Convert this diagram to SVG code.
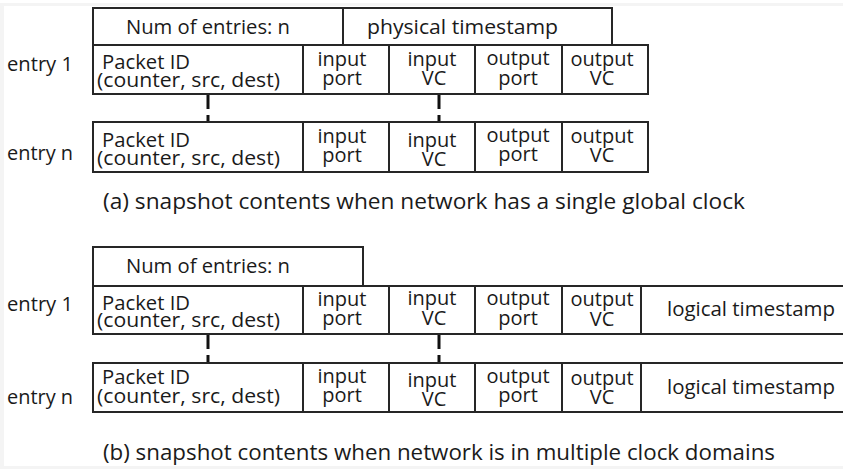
<svg xmlns="http://www.w3.org/2000/svg" width="843" height="469" viewBox="0 0 843 469">
  <style>
    .cell { fill: #ffffff; stroke: #262626; stroke-width: 2; }
    .t { font-family: "Open Sans", "Noto Sans", "DejaVu Sans", sans-serif; font-size: 20px; fill: #1a1a1a; }
    .m { text-anchor: middle; }
    .lbl { font-family: "Open Sans", "Noto Sans", "DejaVu Sans", sans-serif; font-size: 20px; fill: #1a1a1a; }
    .cap { font-family: "Open Sans", "Noto Sans", "DejaVu Sans", sans-serif; font-size: 21px; fill: #1a1a1a; }
    .dash { stroke: #111111; stroke-width: 3; stroke-dasharray: 14 6; fill: none; }
  </style>

  <!-- page background with faint frame -->
  <rect x="0" y="0" width="843" height="469" fill="#ffffff"/>
  <rect x="0" y="3" width="843" height="3" fill="#f4f4f4"/>
  <rect x="0" y="3" width="4" height="466" fill="#f4f4f4"/>
  <rect x="0" y="466" width="843" height="3" fill="#f4f4f4"/>

  <!-- ===== (a) single global clock ===== -->
  <g id="a-header-count">
    <rect class="cell" x="93" y="8" width="250" height="37"/>
    <text class="t" x="126" y="34" textLength="164" lengthAdjust="spacingAndGlyphs">Num of entries: n</text>
  </g>
  <g id="a-header-time">
    <rect class="cell" x="343" y="8" width="269" height="37"/>
    <text class="t" x="367" y="34" textLength="191" lengthAdjust="spacingAndGlyphs">physical timestamp</text>
  </g>

  <text class="lbl" x="7" y="71" textLength="66" lengthAdjust="spacingAndGlyphs">entry 1</text>
  <g id="a-entry1">
    <rect class="cell" x="93" y="45" width="210" height="49"/>
    <rect class="cell" x="303" y="45" width="86" height="49"/>
    <rect class="cell" x="389" y="45" width="86" height="49"/>
    <rect class="cell" x="475" y="45" width="87" height="49"/>
    <rect class="cell" x="562" y="45" width="86" height="49"/>
    <text class="t" x="102" y="69" textLength="88" lengthAdjust="spacingAndGlyphs">Packet ID</text>
    <text class="t" x="97" y="87" textLength="183" lengthAdjust="spacingAndGlyphs">(counter, src, dest)</text>
    <text class="t m" x="342" y="66">input</text>
    <text class="t m" x="342" y="85">port</text>
    <text class="t m" x="432" y="66">input</text>
    <text class="t m" x="434" y="85">VC</text>
    <text class="t m" x="518" y="65">output</text>
    <text class="t m" x="518" y="85">port</text>
    <text class="t m" x="602" y="66">output</text>
    <text class="t m" x="602" y="85">VC</text>
  </g>

  <text class="lbl" x="7" y="160" textLength="66" lengthAdjust="spacingAndGlyphs">entry n</text>
  <g id="a-entryn">
    <rect class="cell" x="93" y="122" width="210" height="50"/>
    <rect class="cell" x="303" y="122" width="86" height="50"/>
    <rect class="cell" x="389" y="122" width="86" height="50"/>
    <rect class="cell" x="475" y="122" width="87" height="50"/>
    <rect class="cell" x="562" y="122" width="86" height="50"/>
    <text class="t" x="102" y="147" textLength="88" lengthAdjust="spacingAndGlyphs">Packet ID</text>
    <text class="t" x="97" y="165" textLength="183" lengthAdjust="spacingAndGlyphs">(counter, src, dest)</text>
    <text class="t m" x="342" y="143">input</text>
    <text class="t m" x="342" y="162">port</text>
    <text class="t m" x="432" y="147">input</text>
    <text class="t m" x="434" y="166">VC</text>
    <text class="t m" x="518" y="142">output</text>
    <text class="t m" x="518" y="161">port</text>
    <text class="t m" x="602" y="143">output</text>
    <text class="t m" x="602" y="162">VC</text>
  </g>

  <text class="cap" x="103" y="209" textLength="642" lengthAdjust="spacingAndGlyphs">(a) snapshot contents when network has a single global clock</text>

  <!-- ===== (b) multiple clock domains ===== -->
  <g id="b-header-count">
    <rect class="cell" x="93" y="247" width="270" height="39"/>
    <text class="t" x="126" y="273" textLength="164" lengthAdjust="spacingAndGlyphs">Num of entries: n</text>
  </g>

  <text class="lbl" x="7" y="311" textLength="66" lengthAdjust="spacingAndGlyphs">entry 1</text>
  <g id="b-entry1">
    <rect class="cell" x="93" y="286" width="210" height="48"/>
    <rect class="cell" x="303" y="286" width="86" height="48"/>
    <rect class="cell" x="389" y="286" width="86" height="48"/>
    <rect class="cell" x="475" y="286" width="87" height="48"/>
    <rect class="cell" x="562" y="286" width="79" height="48"/>
    <rect class="cell" x="641" y="286" width="210" height="48"/>
    <text class="t" x="102" y="310" textLength="88" lengthAdjust="spacingAndGlyphs">Packet ID</text>
    <text class="t" x="97" y="327" textLength="183" lengthAdjust="spacingAndGlyphs">(counter, src, dest)</text>
    <text class="t m" x="342" y="306">input</text>
    <text class="t m" x="342" y="325">port</text>
    <text class="t m" x="432" y="305">input</text>
    <text class="t m" x="434" y="325">VC</text>
    <text class="t m" x="518" y="305">output</text>
    <text class="t m" x="518" y="325">port</text>
    <text class="t m" x="602" y="306">output</text>
    <text class="t m" x="602" y="326">VC</text>
    <text class="t" x="667" y="316" textLength="168" lengthAdjust="spacingAndGlyphs">logical timestamp</text>
  </g>

  <text class="lbl" x="7" y="404" textLength="66" lengthAdjust="spacingAndGlyphs">entry n</text>
  <g id="b-entryn">
    <rect class="cell" x="93" y="363" width="210" height="49"/>
    <rect class="cell" x="303" y="363" width="86" height="49"/>
    <rect class="cell" x="389" y="363" width="86" height="49"/>
    <rect class="cell" x="475" y="363" width="87" height="49"/>
    <rect class="cell" x="562" y="363" width="79" height="49"/>
    <rect class="cell" x="641" y="363" width="210" height="49"/>
    <text class="t" x="102" y="384" textLength="88" lengthAdjust="spacingAndGlyphs">Packet ID</text>
    <text class="t" x="97" y="403" textLength="183" lengthAdjust="spacingAndGlyphs">(counter, src, dest)</text>
    <text class="t m" x="342" y="383">input</text>
    <text class="t m" x="342" y="402">port</text>
    <text class="t m" x="432" y="387">input</text>
    <text class="t m" x="434" y="406">VC</text>
    <text class="t m" x="518" y="383">output</text>
    <text class="t m" x="518" y="402">port</text>
    <text class="t m" x="602" y="385">output</text>
    <text class="t m" x="602" y="404">VC</text>
    <text class="t" x="667" y="394" textLength="168" lengthAdjust="spacingAndGlyphs">logical timestamp</text>
  </g>

  <text class="cap" x="103" y="460" textLength="672" lengthAdjust="spacingAndGlyphs">(b) snapshot contents when network is in multiple clock domains</text>

  <!-- dashed continuation marks between entry 1 and entry n -->
  <g id="connectors">
    <line class="dash" x1="208" y1="95" x2="208" y2="121"/>
    <line class="dash" x1="439" y1="95" x2="439" y2="121"/>
    <line class="dash" x1="208" y1="335" x2="208" y2="362"/>
    <line class="dash" x1="439" y1="335" x2="439" y2="362"/>
  </g>
</svg>
